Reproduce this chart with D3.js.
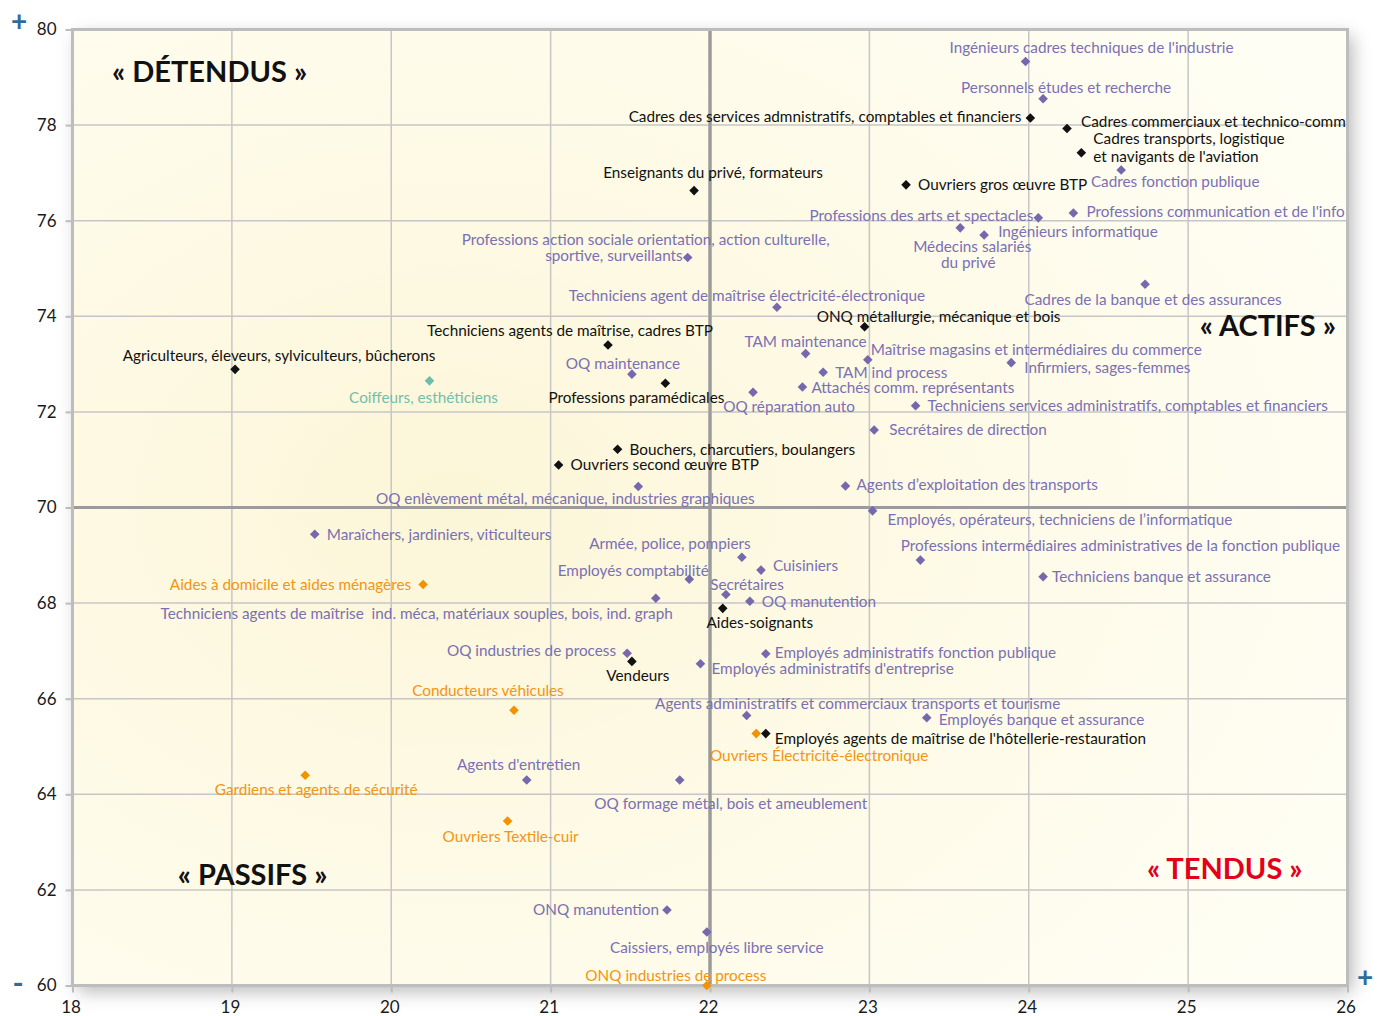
<!DOCTYPE html>
<html><head><meta charset="utf-8">
<script src="https://cdn.jsdelivr.net/npm/d3@7"></script>
<style>body{margin:0;background:#fff} svg{display:block}</style>
</head><body><svg id="c" width="1385" height="1016"></svg>
<script>
const names = [
"Ingénieurs cadres techniques de l'industrie",
"Personnels études et recherche",
"Cadres des services admnistratifs, comptables et financiers",
"Cadres commerciaux et technico-comm",
"Cadres transports, logistique\net navigants de l'aviation",
"Cadres fonction publique",
"Ouvriers gros œuvre BTP",
"Enseignants du privé, formateurs",
"Professions des arts et spectacles",
"Professions communication et de l'info",
"Médecins salariés\ndu privé",
"Ingénieurs informatique",
"Professions action sociale orientation, action culturelle,\nsportive, surveillants",
"Cadres de la banque et des assurances",
"Techniciens agent de maîtrise électricité-électronique",
"ONQ métallurgie, mécanique et bois",
"Techniciens agents de maîtrise, cadres BTP",
"Agriculteurs, éleveurs, sylviculteurs, bûcherons",
"Coiffeurs, esthéticiens",
"TAM maintenance",
"Maîtrise magasins et intermédiaires du commerce",
"TAM ind process",
"Infirmiers, sages-femmes",
"OQ maintenance",
"Professions paramédicales",
"Attachés comm. représentants",
"OQ réparation auto",
"Techniciens services administratifs, comptables et financiers",
"Secrétaires de direction",
"Bouchers, charcutiers, boulangers",
"Ouvriers second œuvre BTP",
"OQ enlèvement métal, mécanique, industries graphiques",
"Agents d’exploitation des transports",
"Employés, opérateurs, techniciens de l’informatique",
"Maraîchers, jardiniers, viticulteurs",
"Professions intermédiaires administratives de la fonction publique",
"Armée, police, pompiers",
"Cuisiniers",
"Techniciens banque et assurance",
"Employés comptabilité",
"Aides à domicile et aides ménagères",
"Secrétaires",
"Techniciens agents de maîtrise  ind. méca, matériaux souples, bois, ind. graph",
"OQ manutention",
"Aides-soignants",
"OQ industries de process",
"Vendeurs",
"Employés administratifs fonction publique",
"Employés administratifs d'entreprise",
"Conducteurs véhicules",
"Agents administratifs et commerciaux transports et tourisme",
"Employés banque et assurance",
"Ouvriers Électricité-électronique",
"Employés agents de maîtrise de l'hôtellerie-restauration",
"Gardiens et agents de sécurité",
"Agents d'entretien",
"OQ formage métal, bois et ameublement",
"Ouvriers Textile-cuir",
"ONQ manutention",
"Caissiers, employés libre service",
"ONQ industries de process"
];
const xValues = [23.98,24.09,24.01,24.24,24.33,24.58,23.23,21.90,24.06,24.28,23.57,23.72,21.86,24.73,22.42,22.97,21.36,19.02,20.24,22.60,22.99,22.71,23.89,21.51,21.72,22.58,22.27,23.29,23.03,21.42,21.05,21.55,22.85,23.02,19.52,23.32,22.20,22.32,24.09,21.87,20.20,22.10,21.66,22.25,22.08,21.48,21.51,22.35,21.94,20.77,22.23,23.36,22.29,22.35,19.46,20.85,21.81,20.73,21.73,21.98,21.98];
const yValues = [79.33,78.55,78.15,77.93,77.42,77.06,76.75,76.63,76.06,76.16,75.85,75.70,75.23,74.67,74.19,73.78,73.40,72.89,72.65,73.22,73.09,72.83,73.03,72.79,72.60,72.52,72.41,72.13,71.62,71.22,70.89,70.44,70.45,69.93,69.44,68.90,68.96,68.69,68.55,68.50,68.39,68.18,68.10,68.04,67.89,66.95,66.78,66.94,66.73,65.76,65.65,65.60,65.27,65.27,64.40,64.30,64.30,63.44,61.58,61.12,60.00];
// k = noir, p = violet, o = orange, t = vert
const groups = ["p","p","k","k","k","p","k","k","p","p","p","p","p","p","p","k","k","k","t","p","p","p","p","p","k","p","p","p","p","k","k","p","p","p","p","p","p","p","p","p","o","p","p","p","k","p","k","p","p","o","p","p","o","k","o","p","p","o","p","p","o"];
const xTicks = [18,19,20,21,22,23,24,25,26];
const yTicks = [60,62,64,66,68,70,72,74,76,78,80];
const quadrantNames = ["« DÉTENDUS »","« ACTIFS »","« PASSIFS »","« TENDUS »"];
const quadrantX = [18.86,25.50,19.13,25.23];
const quadrantY = [79.11,73.80,62.31,62.44];

// label placement (anchor, dx, dy) — layout only
const labelLayout = [
['m',66,-14],['m',23,-11],['e',-9,-1],['s',14,-7],[['s',12,-14],['s',12,4]],['m',54,12],['s',12,0],['m',19,-18],
['e',-5,-2],['s',13,-1],[['m',12,19],['m',8,35]],['s',14,-3],[['m',-42,-18],['e',-5,-2]],['m',8,15],['m',-30,-12],
['m',74,-10],['m',-38,-14],['m',44,-14],['m',-6,17],['m',0,-12],['s',3,-10],['s',12,0],['s',13,5],['m',-9,-10],
['m',-29,14],['s',9,1],['m',36,14],['s',12,0],['s',15,0],['s',12,0],['s',12,0],['m',-73,12],['s',11,-1],['s',15,9],
['s',12,0],['m',200,-14],['m',-72,-14],['s',12,-4],['s',9,0],['m',-56,-9],['e',-12,0],['m',21,-10],['e',17,15],
['s',12,0],['m',37,14],['e',-11,-3],['m',6,14],['s',9,-1],['s',11,5],['m',-26,-20],['m',111,-12],['s',12,2],
['m',63,22],['s',9,5],['m',11,14],['m',-8,-15],['m',51,24],['m',3,16],['e',-8,0],['m',10,16],['m',-31,-10]
];

const markerColor = {p:"#7668ad", k:"#111111", o:"#f39200", t:"#6fbda8"};
const textColor = {p:"#7a70b3", k:"#111111", o:"#f39512", t:"#72bfaa"};
const anchorMap = {m:"middle", s:"start", e:"end"};
const FONT = "Lato, 'Open Sans', sans-serif";

const svg = d3.select("#c");
const x = d3.scaleLinear().domain([18,26]).range([72.5,1347.5]);
const y = d3.scaleLinear().domain([60,80]).range([985.5,29.5]);

const defs = svg.append("defs");
const f = defs.append("filter").attr("id","sh").attr("x","-5%").attr("y","-5%").attr("width","112%").attr("height","112%");
f.append("feDropShadow").attr("dx",5).attr("dy",6).attr("stdDeviation",9).attr("flood-color","#000").attr("flood-opacity",0.28);
const g1 = defs.append("radialGradient").attr("id","bg").attr("cx","0.3").attr("cy","0.5").attr("r","0.8");
g1.append("stop").attr("offset","0").attr("stop-color","#fcf6d8");
g1.append("stop").attr("offset","0.6").attr("stop-color","#fefbea");
g1.append("stop").attr("offset","1").attr("stop-color","#fffef4");

const [x0,x1] = x.range(), [y0,y1] = [y(80), y(60)];
svg.append("rect").attr("x",x0).attr("y",y0).attr("width",x1-x0).attr("height",y1-y0)
  .attr("fill","#fffdf0").attr("filter","url(#sh)");
svg.append("rect").attr("x",x0).attr("y",y0).attr("width",x1-x0).attr("height",y1-y0).attr("fill","url(#bg)");

// grid
const grid = svg.append("g");
grid.selectAll(".gx").data(xTicks.filter(d=>d>18&&d<26)).join("line")
  .attr("x1",d=>x(d)).attr("x2",d=>x(d)).attr("y1",y0).attr("y2",y1)
  .attr("stroke",d=>d===22?"#9b9b9b":"#c6c6c6").attr("stroke-width",d=>d===22?3:1.5);
grid.selectAll(".gy").data(yTicks.filter(d=>d>60&&d<80)).join("line")
  .attr("x1",x0).attr("x2",x1).attr("y1",d=>y(d)).attr("y2",d=>y(d))
  .attr("stroke",d=>d===70?"#9b9b9b":"#c6c6c6").attr("stroke-width",d=>d===70?3:1.5);
grid.append("line").attr("x1",x(22)).attr("x2",x(22)).attr("y1",y0).attr("y2",y1).attr("stroke","#9b9b9b").attr("stroke-width",3);

// frame
svg.append("rect").attr("x",x0).attr("y",y0).attr("width",x1-x0).attr("height",y1-y0)
  .attr("fill","none").attr("stroke","#bdbdbd").attr("stroke-width",3);

// axes
const ax = svg.append("g").attr("transform",`translate(0,${y1})`)
  .call(d3.axisBottom(x).tickValues(xTicks).tickSize(7).tickPadding(8).tickFormat(d3.format("d")));
const ay = svg.append("g").attr("transform",`translate(${x0},0)`)
  .call(d3.axisLeft(y).tickValues(yTicks).tickSize(7).tickPadding(9).tickFormat(d3.format("d")));
[ax,ay].forEach(a=>{
  a.select(".domain").remove();
  a.selectAll(".tick line").attr("stroke","#bdbdbd").attr("stroke-width",2);
  a.selectAll(".tick text").attr("fill","#1a1a1a").style("font-family",FONT).style("font-size","17px");
});
ax.selectAll(".tick text").attr("dx","-2");

// + / - signs
svg.append("text").attr("x",19).attr("y",31).attr("text-anchor","middle").attr("fill","#2f6c9a")
  .style("font-family",FONT).style("font-size","28px").style("font-weight","bold").text("+");
svg.append("text").attr("x",18).attr("y",994).attr("text-anchor","middle").attr("fill","#2f6c9a")
  .style("font-family",FONT).style("font-size","30px").style("font-weight","bold").text("-");
svg.append("text").attr("x",1365).attr("y",987).attr("text-anchor","middle").attr("fill","#2f6c9a")
  .style("font-family",FONT).style("font-size","28px").style("font-weight","bold").text("+");

// quadrant names
svg.append("g").selectAll("text").data(quadrantNames).join("text")
  .attr("x",(d,i)=>x(quadrantX[i])).attr("y",(d,i)=>y(quadrantY[i])).attr("dy","0.35em")
  .attr("text-anchor","middle").attr("fill",(d,i)=>i===3?"#e3001b":"#111")
  .style("font-family",FONT).style("font-weight","bold").style("font-size","29px").text(d=>d);

// data
const data = names.map((n,i)=>({name:n,x:xValues[i],y:yValues[i],g:groups[i],lay:labelLayout[i]}));

const labels = svg.append("g").style("font-family",FONT).style("font-size","15.3px");
data.forEach(d=>{
  const lines = d.name.split("\n");
  const lays = Array.isArray(d.lay[0]) ? d.lay : [d.lay];
  lines.forEach((ln,j)=>{
    const L = lays[j] || lays[0];
    labels.append("text").attr("x",x(d.x)+L[1]).attr("y",y(d.y)+L[2]).attr("dy","0.35em")
      .attr("text-anchor",anchorMap[L[0]]).attr("fill",textColor[d.g]).attr("xml:space","preserve").text(ln);
  });
});

svg.append("g").selectAll("path").data(data).join("path")
  .attr("d",d3.symbol().type(d3.symbolSquare).size(46))
  .attr("transform",d=>`translate(${x(d.x)},${y(d.y)}) rotate(45)`)
  .attr("fill",d=>markerColor[d.g]);
</script></body></html>
